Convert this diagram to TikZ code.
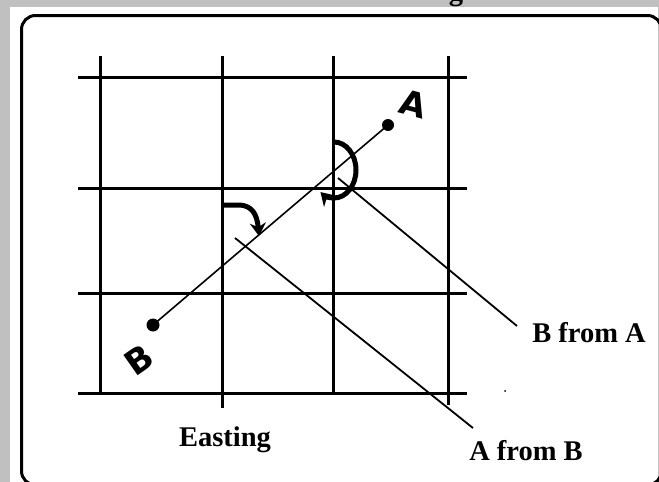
\documentclass[tikz,border=0pt]{standalone}
\usepackage{fontspec}
\setmainfont{Liberation Serif}
\newfontfamily\handfont{DejaVu Sans}
\usetikzlibrary{arrows.meta}
\definecolor{bggray}{HTML}{C0C0C0}
\begin{document}
\begin{tikzpicture}[x=1pt,y=-1pt,
  gridline/.style={line width=3pt},
  leader/.style={line width=1.8pt},
  bearing/.style={line width=1.6pt},
  hand/.style={font=\handfont\bfseries\fontsize{34}{34}\selectfont},
  label/.style={font=\bfseries\fontsize{28.5}{31}\selectfont, inner sep=0pt},
  turn/.style={line width=5pt, -{Stealth[length=13pt,width=16pt]}},
  dotmark/.style={fill=black}]
\useasboundingbox (0,0) rectangle (659,482);
\fill[bggray] (0,0) rectangle (659,482);
\fill[white] (10,7) rectangle (658,482);
\begin{scope}
\clip (0,0) rectangle (659,482);
\node[label, anchor=base] (title) at (456,0) {g};
\draw[line width=3pt, rounded corners=14pt] (21.5,15.5) rectangle (661.5,485);
\end{scope}
% grid
\foreach \y in {77,188,293,393} \draw[gridline] (78,\y) -- (467,\y);
\draw[gridline] (100,56) -- (100,393);
\draw[gridline] (222,56) -- (222,408);
\draw[gridline] (333,56) -- (333,393);
\draw[gridline] (448,56) -- (448,405);
% points
\coordinate (A) at (388,125);
\coordinate (B) at (153,325);
\fill[dotmark] (A) circle (6);
\fill[dotmark] (B) circle (6.5);
\draw[bearing] (B) -- (A);
\node[hand, rotate=-15] (Alabel) at (413,104) {A};
\node[hand, rotate=35] (Blabel) at (139,360) {B};
% bearing arcs
\draw[turn] (334,142) arc[start angle=-90, end angle=128, x radius=22, y radius=28];
\draw[turn] (222,205) -- (240,205) .. controls (252,206) and (257,214) .. (259,236);
% leaders and labels
\node[label] (BfromA) at (589,333) {B from A};
\node[label] (AfromB) at (526,451) {A from B};
\node[label] (Easting) at (225,440) {Easting};
\coordinate (bfa) at (338,178);
\coordinate (afb) at (235,238);
\draw[leader] (bfa) -- (517,326) coordinate (bfaend);
\draw[leader] (afb) -- (473,428) coordinate (afbend);
\fill (505,391) circle (1);
\end{tikzpicture}
\end{document}
